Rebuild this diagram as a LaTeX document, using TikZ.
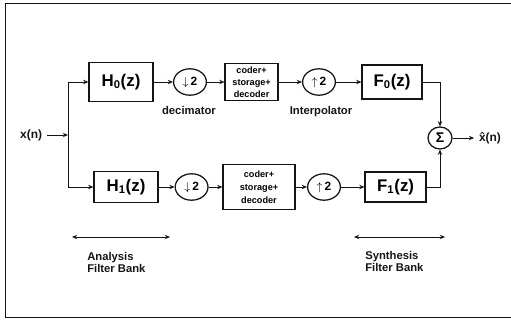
\documentclass[tikz,border=0pt]{standalone}
\usepackage{fontspec}
\setmainfont{Liberation Sans}
\usetikzlibrary{arrows.meta,shapes.geometric}
\definecolor{fbink}{HTML}{141414}
\tikzset{
  bx/.style={draw=fbink, line width=0.9pt, align=center, inner sep=1pt},
  flt/.style={bx, font=\fontsize{12}{14}\selectfont\bfseries},
  cdc/.style={bx, font=\fontsize{6.5}{8.4}\selectfont\bfseries},
  rs/.style={ellipse, draw=fbink, line width=0.9pt, minimum width=8.2mm, minimum height=6.6mm, inner sep=0pt, font=\fontsize{8.5}{10}\selectfont\bfseries},
  arr/.style={-{Stealth[length=1.3mm, width=1.1mm]}, line width=0.6pt, color=fbink},
  arr2/.style={{Stealth[length=1.3mm, width=1.1mm]}-{Stealth[length=1.3mm, width=1.1mm]}, line width=0.6pt, color=fbink},
  ln/.style={line width=0.6pt, color=fbink},
  lbl/.style={font=\fontsize{8}{8.6}\selectfont\bfseries, color=fbink},
}
\begin{document}
\begin{tikzpicture}
    \useasboundingbox (0,0) rectangle (12.775,8.05);
    \draw[ln, line width=0.7pt] (12.9,7.975) -| (0.125,0.125) -- (12.9,0.125);
    % analysis side
    \node[lbl, font=\fontsize{8.5}{10}\selectfont\bfseries] (xin) at (0.78,4.675) {x(n)};
    \coordinate (jt) at (1.7,6.0);
    \coordinate (jm) at (1.7,4.675);
    \coordinate (jb) at (1.7,3.375);
    \node[flt, minimum width=16mm, minimum height=9.75mm] (h0) at (3.025,6.0) {H\textsubscript{0}(z)};
    \node[flt, minimum width=16mm, minimum height=7.75mm] (h1) at (3.15,3.375) {H\textsubscript{1}(z)};
    \node[rs] (dt) at (4.75,6.0) {$\downarrow$\,2};
    \node[rs] (db) at (4.79,3.375) {$\downarrow$\,2};
    \node[lbl] (dec) at (4.725,5.3) {decimator};
    % coder boxes
    \node[cdc, minimum width=13.25mm, minimum height=9.25mm] (ct) at (6.29,6.0) {coder+\\storage+\\decoder};
    \node[cdc, minimum width=18mm, minimum height=11.25mm, font=\fontsize{6.5}{9.2}\selectfont\bfseries] (cb) at (6.475,3.375) {coder+\\storage+\\decoder};
    % synthesis side
    \node[rs] (ut) at (7.975,6.0) {$\uparrow$\,2};
    \node[rs] (ub) at (8.1,3.375) {$\uparrow$\,2};
    \node[lbl] (itp) at (8.025,5.25) {Interpolator};
    \node[flt, minimum width=15mm, minimum height=8.5mm] (f0) at (9.8,6.0) {F\textsubscript{0}(z)};
    \node[flt, minimum width=15.25mm, minimum height=7.5mm] (f1) at (9.89,3.375) {F\textsubscript{1}(z)};
    \node[rs, minimum width=6mm, minimum height=5.5mm, font=\fontsize{10}{12}\selectfont\bfseries] (sum) at (11.0,4.6) {Σ};
    \node[lbl, font=\fontsize{8.5}{10}\selectfont\bfseries] (xout) at (12.25,4.6) {\^{x}(n)};
    \draw[arr] (xin) -- (jm);
    \draw[ln] (jt) -- (jb);
    \draw[arr] (jt) -- (h0);
    \draw[arr] (jb) -- (h1);
    \draw[arr] (h0) -- (dt);
    \draw[arr] (h1) -- (db);
    \draw[arr] (dt) -- (ct);
    \draw[arr] (db) -- (cb);
    \draw[arr] (ct) -- (ut);
    \draw[arr] (cb) -- (ub);
    \draw[arr] (ut) -- (f0);
    \draw[arr] (ub) -- (f1);
    \draw[arr] (f0.east) -| (sum.north);
    \draw[arr] (f1.east) -| (sum.south);
    \draw[arr] (sum) -- (xout);
    % filter bank spans
    \coordinate (aL) at (1.8,2.125);
    \coordinate (aR) at (4.25,2.125);
    \coordinate (sL) at (8.85,2.125);
    \coordinate (sR) at (11.125,2.125);
    \draw[arr2] (aL) -- (aR);
    \draw[arr2] (sL) -- (sR);
    \node[lbl, align=left, anchor=north west, inner sep=0pt] (ana) at (2.175,1.75) {Analysis\\Filter Bank};
    \node[lbl, align=left, anchor=north west, inner sep=0pt] (syn) at (9.125,1.78) {Synthesis\\Filter Bank};
  \end{tikzpicture}
\end{document}
